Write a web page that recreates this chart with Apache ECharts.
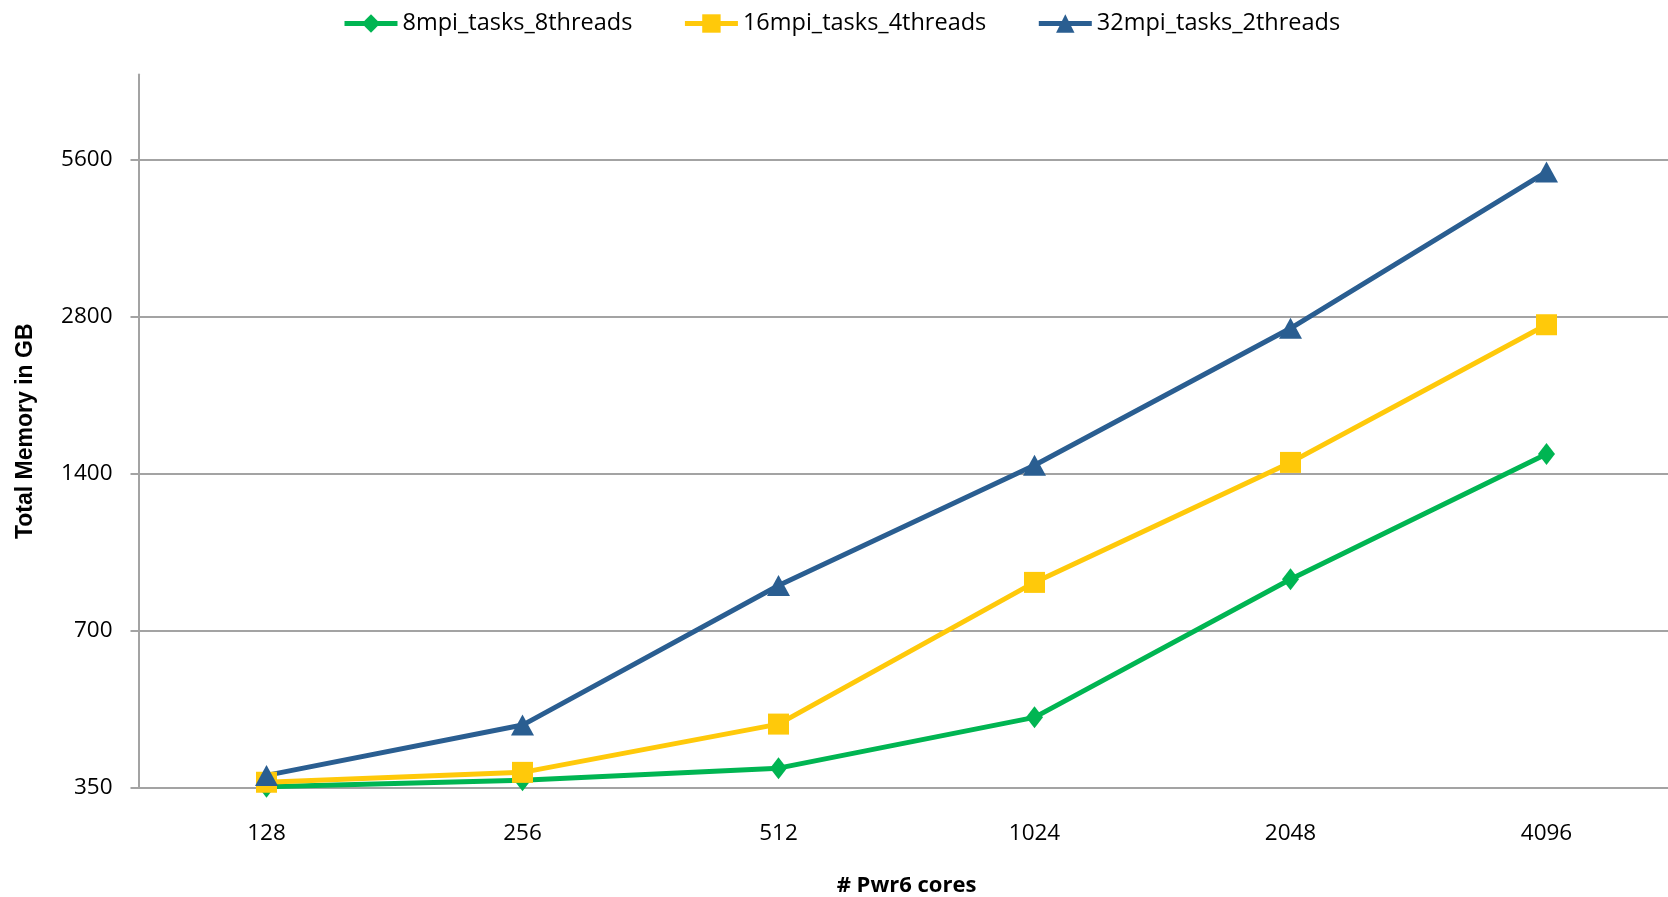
<!DOCTYPE html>
<html>
<head>
<meta charset="utf-8">
<title>Total Memory vs Pwr6 cores</title>
<script src="https://cdn.jsdelivr.net/npm/echarts@6/dist/echarts.min.js"></script>
<style>
  html, body { margin: 0; padding: 0; background: #ffffff; }
  #chart { width: 1668px; height: 897px; }
</style>
</head>
<body>
<div id="chart"></div>
<script>
// Core counts on the x axis
const cores = ['128', '256', '512', '1024', '2048', '4096'];

// Total memory (GB) for each MPI/thread layout
const mem8x8 = [352, 362, 382, 478, 879, 1528];
const mem16x4 = [359, 375, 464, 867, 1472, 2702];
const mem32x2 = [370, 462, 855, 1454, 2660, 5303];

// Labelled values on the log (base 2) memory axis
const memTicks = [350, 700, 1400, 2800, 5600];

const seriesNames = ['8mpi_tasks_8threads', '16mpi_tasks_4threads', '32mpi_tasks_2threads'];
const colors = ['#00B552', '#FFC90A', '#2A5E91'];

const font = '"Open Sans", "Noto Sans", sans-serif';
const gridGray = '#A3A3A3';

const chart = echarts.init(document.getElementById('chart'), null, { renderer: 'canvas' });

function lineSeries(name, data, color, symbol, size) {
  return {
    name: name,
    type: 'line',
    data: data,
    symbol: symbol,
    symbolSize: size,
    showSymbol: true,
    lineStyle: { color: color, width: 5 },
    itemStyle: { color: color },
    emphasis: { disabled: true },
    z: 3
  };
}

chart.setOption({
  animation: false,
  backgroundColor: '#ffffff',
  color: colors,
  legend: {
    top: 11.5,
    left: 342,
    padding: 0,
    itemWidth: 53,
    itemHeight: 23,
    itemGap: 50,
    lineStyle: { width: 5 },
    textStyle: { fontFamily: font, fontSize: 23.5, color: '#000000' },
    data: seriesNames
  },
  grid: {
    left: 138.5,
    width: 1536,
    top: 74.5,
    bottom: 109,
    outerBoundsMode: 'none',
    containLabel: false
  },
  xAxis: {
    type: 'category',
    data: cores,
    boundaryGap: true,
    name: '# Pwr6 cores',
    nameLocation: 'middle',
    nameGap: 87,
    nameTextStyle: { fontFamily: font, fontSize: 22, fontWeight: 'bold', color: '#000000' },
    axisLine: { show: true, lineStyle: { color: gridGray, width: 2 } },
    axisTick: { show: false },
    axisLabel: { fontFamily: font, fontSize: 22.5, color: '#000000', margin: 34 },
    splitLine: { show: false }
  },
  yAxis: {
    type: 'log',
    logBase: 2,
    min: 350,
    max: 8150,
    name: 'Total Memory in GB',
    nameLocation: 'middle',
    nameGap: 101,
    nameRotate: 90,
    nameTextStyle: { fontFamily: '"Liberation Sans", Arial, sans-serif', fontSize: 23, fontWeight: 'bold', color: '#000000' },
    axisLine: { show: true, lineStyle: { color: gridGray, width: 2 } },
    axisTick: { show: true, inside: false, length: 8, customValues: memTicks, lineStyle: { color: gridGray, width: 2 } },
    axisLabel: {
      customValues: memTicks,
      fontFamily: font,
      fontSize: 22.5,
      color: '#000000',
      margin: 26,
      formatter: function (v) { return String(Math.round(v)); }
    },
    splitLine: { show: true, lineStyle: { color: gridGray, width: 2 } }
  },
  series: [
    lineSeries(seriesNames[0], mem8x8, colors[0], 'diamond', [17, 22]),
    lineSeries(seriesNames[1], mem16x4, colors[1], 'rect', 21),
    lineSeries(seriesNames[2], mem32x2, colors[2], 'triangle', [23, 21])
  ]
});
</script>
</body>
</html>
